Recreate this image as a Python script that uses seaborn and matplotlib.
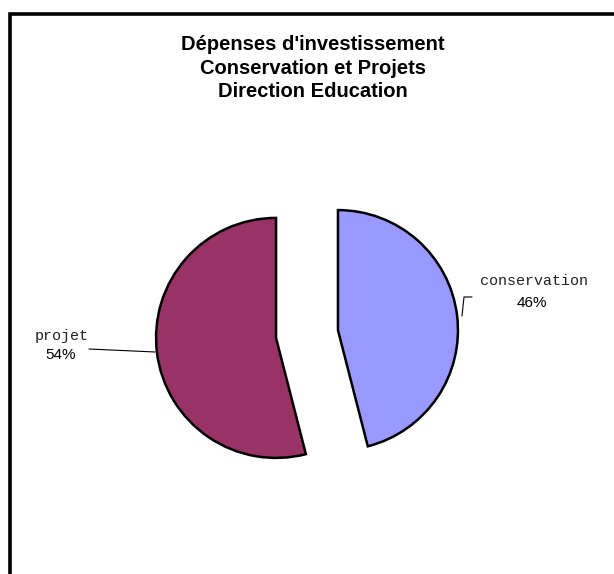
import matplotlib
matplotlib.use("Agg")
import matplotlib.pyplot as plt
import seaborn as sns
from matplotlib.patches import Rectangle

# data
categories = ["conservation", "projet"]
shares = [46, 54]
colors = ["#9999FF", "#993366"]
title_lines = ["Dépenses d'investissement", "Conservation et Projets", "Direction Education"]

sns.set_theme(style="white")
plt.rcParams["font.family"] = ["Liberation Sans", "DejaVu Sans"]
plt.rcParams["text.color"] = "black"

W, H = 614, 574
fig = plt.figure(figsize=(W / 100, H / 100), dpi=100)
ax = fig.add_axes([0, 0, 1, 1])

# chart frame (runs off the right and bottom edges)
ax.add_patch(Rectangle((10, -20), 640, H - 14 + 20, fill=False,
                       edgecolor="black", linewidth=2.6, clip_on=False))

radius = 120
wedges, _ = ax.pie(
    shares,
    colors=colors,
    startangle=90,
    counterclock=False,
    center=(307, H - 334),
    radius=radius,
    explode=[0.26 * radius, 0.26 * radius],
    wedgeprops=dict(edgecolor="black", linewidth=1.8),
    frame=True,
)
ax.set_xlim(0, W)
ax.set_ylim(0, H)
ax.set_aspect("equal")
ax.axis("off")

ax.text(313, H - 68, "\n".join(title_lines), ha="center", va="center",
        fontsize=14.5, fontweight="bold", linespacing=1.32)

# labels
mono = ["Liberation Mono", "DejaVu Sans Mono"]
ax.text(534, H - 281, categories[0], ha="center", va="center", fontsize=10.8,
        family=mono, color="#222222")
ax.text(532, H - 303, f"{shares[0]}%", ha="center", va="center", fontsize=11)
ax.text(62, H - 336, categories[1], ha="center", va="center", fontsize=10.8,
        family=mono, color="#222222")
ax.text(61, H - 355, f"{shares[1]}%", ha="center", va="center", fontsize=11)

# leader lines
ax.plot([462, 464, 472], [H - 316, H - 297, H - 297], color="black", lw=0.8)
ax.plot([89, 155], [H - 349, H - 352], color="black", lw=0.8)

fig.savefig("out.png", dpi=100, facecolor="white")
